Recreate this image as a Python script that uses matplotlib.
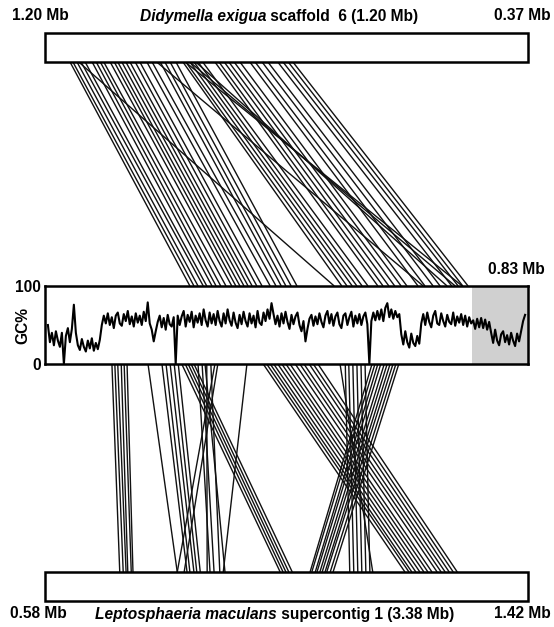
import matplotlib
matplotlib.use("Agg")
import matplotlib.pyplot as plt
from matplotlib.patches import Rectangle
from matplotlib.collections import LineCollection
import numpy as np

plt.rcParams["font.family"] = ["Liberation Sans", "DejaVu Sans"]

# ── data (positions in kb) ───────────────────────────────────────────────────

DE_RANGE  = (1200, 370)    # D. exigua scaffold 6, drawn reversed
MID_RANGE = (0, 830)       # middle region with GC track
LM_RANGE  = (580, 1420)    # L. maculans supercontig 1
DE_SIZE_MB = 1.20
LM_SIZE_MB = 3.38
MID_SHADE = (734, 830)

# D. exigua  <->  middle region
DE_LINK_DE = [1157, 1152, 1145, 1138, 1131, 1119, 1112, 1105, 1099, 1088,
              1081, 1075, 1068, 1061, 1054, 1045, 1037, 1025, 1016, 1002,
              994, 985, 975,
              1142, 1008,
              963, 958, 951, 944, 937, 929, 908, 901, 892, 884,
              875, 865, 848, 839, 827, 817, 800, 791, 782, 774,
              959, 951, 941]
DE_LINK_MID = [249, 256, 263, 272, 278, 287, 294, 302, 311, 321,
               328, 335, 342, 349, 356, 364, 373, 387, 397, 406,
               414, 423, 433,
               497, 650,
               510, 519, 528, 536, 545, 555, 572, 581, 591, 601,
               612, 622, 641, 653, 667, 679, 699, 710, 718, 727,
               717, 705, 691]

# middle region  <->  L. maculans
LM_LINK_MID = [115, 120, 125, 131, 136, 141,
               177,
               201, 208, 215, 222, 229,
               235, 241, 246, 251, 256,
               263, 270, 278, 285, 292, 297, 347, 275,
               375, 381, 387, 393, 400, 407, 414, 421, 430, 438, 445, 454, 461, 469,
               507, 516, 522, 529, 536, 543, 550,
               562, 567, 572, 577, 583, 588, 593, 598, 603, 608]
LM_LINK_LM = [710, 716, 721, 724, 730, 733,
              810,
              827, 832, 839, 844, 850,
              989, 994, 999, 1004, 1010,
              867, 874, 862, 884, 810, 822, 890, 893,
              1206, 1213, 1218, 1225, 1232, 1239, 1246, 1253, 1262, 1269, 1276, 1283, 1290, 1297,
              1150, 1110, 1117, 1124, 1131, 1138, 1145,
              1041, 1044, 1050, 1053, 1058, 1062, 1067, 1070, 1076, 1081]

# GC% along the middle region (sliding windows)
GC_PCT = [50, 28, 40, 24, 42, 30, 22, 40, 0, 36, 46, 28, 45, 76, 40, 24, 18, 32, 22, 16,
          30, 20, 33, 17, 27, 19, 31,
          50, 62, 52, 65, 50, 60, 46, 62, 66, 52, 49, 64, 55, 68, 51, 61, 48, 65, 53, 62,
          50, 67, 55, 79, 52, 44, 29, 42, 54, 62, 47, 59, 44, 63, 51, 48, 60, 0,
          62, 50, 61, 68, 48, 63, 54, 67, 47, 62, 53, 65, 50, 70, 56, 48, 66, 52, 64, 50,
          68, 55, 48, 65, 52, 70, 56, 49, 66, 53, 46, 63, 51, 67, 55, 48, 65, 52, 62, 47,
          68, 53, 50, 66, 55, 70, 58, 78, 64, 51, 62, 48, 65, 52, 67, 54, 45, 63, 51, 61,
          66, 50, 42, 55, 29, 45, 58, 63, 49, 61, 51, 65, 54, 47, 62, 68, 52, 64, 49, 61,
          66, 51, 46, 62, 65, 50, 60, 67, 48, 62, 52, 64, 50, 61, 66, 51, 0, 55, 66, 56,
          68, 57, 70, 55, 72, 78, 60, 70, 58, 68, 60, 64,
          38, 25, 42, 28, 21, 39, 27, 23, 36, 26,
          52, 64, 50, 66, 54, 47, 62, 68, 52, 50, 65, 55, 48, 63, 54, 51, 66, 49, 61, 53,
          64, 50, 62, 48, 60, 52,
          56, 45, 58, 47, 59, 46, 57, 44, 54,
          40, 27, 44, 30, 24, 38, 42, 28, 37, 25, 40, 30, 23, 39, 29, 42,
          55, 63]

# ── layout (pixels, y downwards) ─────────────────────────────────────────────

W, H = 554, 627
X0, X1 = 45, 528
TOP_Y = (33, 62)
GC_Y = (286, 364)
BOT_Y = (572, 601)
LINK_KW = dict(colors="#111111", linewidths=1.0)
LABEL_KW = dict(fontsize=11.2, fontweight="bold", va="center")


def to_x(pos, rng):
    return X0 + (pos - rng[0]) / (rng[1] - rng[0]) * (X1 - X0)


def species_label(ax, x, y, species, rest):
    t = ax.text(x, y, species, style="italic", ha="left", **LABEL_KW)
    ax.figure.canvas.draw()
    bb = t.get_window_extent()
    x_end = ax.transData.inverted().transform((bb.x1, bb.y0))[0]
    ax.text(x_end, y, " " + rest, ha="left", **LABEL_KW)


fig = plt.figure(figsize=(W / 100, H / 100), dpi=100)
ax = fig.add_axes([0, 0, 1, 1])
ax.set_xlim(0, W)
ax.set_ylim(H, 0)
ax.axis("off")

# chromosome bars
for y0, y1 in (TOP_Y, BOT_Y):
    ax.add_patch(Rectangle((X0, y0), X1 - X0, y1 - y0, facecolor="white",
                           edgecolor="black", linewidth=1.8, zorder=3))

# synteny links
top_segs = [[(to_x(a, DE_RANGE), TOP_Y[1]), (to_x(b, MID_RANGE), GC_Y[0])]
            for a, b in zip(DE_LINK_DE, DE_LINK_MID)]
bot_segs = [[(to_x(a, MID_RANGE), GC_Y[1]), (to_x(b, LM_RANGE), BOT_Y[0])]
            for a, b in zip(LM_LINK_MID, LM_LINK_LM)]
ax.add_collection(LineCollection(top_segs, **LINK_KW))
ax.add_collection(LineCollection(bot_segs, **LINK_KW))

# labels
ax.text(12, 16, f"{DE_RANGE[0] / 1000:.2f} Mb", ha="left", **LABEL_KW)
ax.text(551, 16, f"{DE_RANGE[1] / 1000:.2f} Mb", ha="right", **LABEL_KW)
ax.text(545, 270, f"{MID_RANGE[1] / 1000:.2f} Mb", ha="right", **LABEL_KW)
ax.text(10, 614, f"{LM_RANGE[0] / 1000:.2f} Mb", ha="left", **LABEL_KW)
ax.text(551, 614, f"{LM_RANGE[1] / 1000:.2f} Mb", ha="right", **LABEL_KW)
species_label(ax, 140, 16, "Didymella exigua", f"scaffold  6 ({DE_SIZE_MB:.2f} Mb)")
species_label(ax, 95, 614, "Leptosphaeria maculans", f"supercontig 1 ({LM_SIZE_MB:.2f} Mb)")

# GC track
gc_ax = fig.add_axes([X0 / W, 1 - GC_Y[1] / H, (X1 - X0) / W, (GC_Y[1] - GC_Y[0]) / H])
gc_ax.axvspan(*MID_SHADE, color="#d0d0d0", lw=0)
gc_x = np.linspace(5, 825, len(GC_PCT))
gc_ax.plot(gc_x, GC_PCT, color="black", linewidth=1.5)
gc_ax.set_xlim(*MID_RANGE)
gc_ax.set_ylim(0, 100)
gc_ax.set_xticks([])
gc_ax.set_yticks([0, 100])
gc_ax.set_yticklabels(["0", "100"], fontsize=11.2, fontweight="bold")
gc_ax.tick_params(axis="y", length=0, pad=3)
gc_ax.set_ylabel("GC%", fontsize=11.2, fontweight="bold")
gc_ax.yaxis.set_label_coords(-0.03, 0.5)
for sp in gc_ax.spines.values():
    sp.set_linewidth(1.8)

fig.savefig("out.png", dpi=100)
